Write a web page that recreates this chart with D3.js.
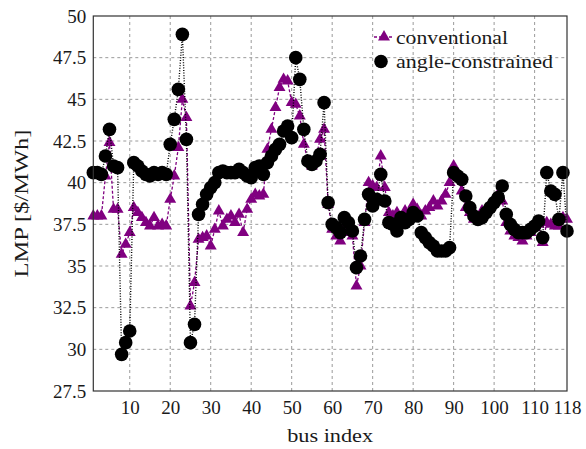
<!DOCTYPE html>
<html>
<head>
<meta charset="utf-8">
<title>LMP</title>
<script src="https://cdn.jsdelivr.net/npm/d3@7"></script>
<style>
  body { margin: 0; background: #fff; }
  text { font-family: "Liberation Serif", serif; fill: #1a1a1a; }
  .grid line { stroke: #808080; stroke-width: 0.8; stroke-dasharray: 3,3; }
</style>
</head>
<body>
<script>

// bus numbers 1..118
var buses = d3.range(1, 119);

var conventional = [
  38.0, 38.0, 38.0, 40.4, 42.4, 38.4, 38.4, 35.7, 36.3, 37.0,
  38.5, 38.2, 37.9, 37.6, 37.4, 37.9, 37.4, 37.5, 37.4, 39.0,
  40.4, 42.1, 45.0, 43.9, 32.6, 34.0, 36.6, 36.7, 36.8, 36.2,
  37.2, 38.3, 37.4, 37.8, 38.0, 37.6, 38.1, 37.0, 38.4, 39.0,
  39.3, 39.2, 39.3, 42.0, 43.2, 44.5, 45.7, 46.2, 46.1, 44.8,
  44.7, 44.0, 42.3, 41.3, 41.0, 41.5, 42.6, 43.2, 38.7, 37.2,
  36.8, 36.5, 37.4, 37.0, 36.8, 33.8, 35.0, 37.6, 40.0, 39.8,
  39.7, 41.6, 39.7, 38.2, 38.0, 38.2, 37.9, 38.3, 38.2, 38.7,
  38.4, 38.0, 38.3, 38.5, 38.9, 38.6, 38.9, 39.3, 40.0, 41.0,
  40.4, 39.5, 38.5, 38.2, 37.8, 37.9, 38.3, 38.3, 38.7, 39.0,
  39.3, 38.9, 37.6, 37.1, 36.8, 36.7, 36.5, 36.8, 37.0, 37.3,
  37.5, 36.4, 37.6, 37.5, 37.4, 37.4, 37.9, 37.8
];

var angleConstrained = [
  40.6, 40.6, 40.5, 41.6, 43.2, 41.0, 40.9, 29.7, 30.4, 31.1,
  41.2, 41.0, 40.7, 40.5, 40.4, 40.6, 40.5, 40.6, 40.5, 42.3,
  43.8, 45.6, 48.9, 42.6, 30.4, 31.5, 38.1, 38.7, 39.3, 39.7,
  40.0, 40.6, 40.7, 40.6, 40.6, 40.6, 40.8, 40.6, 40.4, 40.3,
  40.9, 41.0, 40.5, 41.2, 41.6, 42.0, 42.3, 43.1, 43.4, 42.7,
  47.5, 46.2, 43.2, 41.3, 41.1, 41.3, 41.7, 44.8, 38.8, 37.5,
  37.3, 37.0, 37.9, 37.6, 37.1, 34.9, 35.6, 37.8, 39.3, 38.6,
  39.0, 40.5, 38.9, 37.6, 37.5, 37.1, 37.9, 37.6, 37.8, 38.2,
  38.0, 37.0, 36.7, 36.4, 36.2, 35.9, 35.9, 35.9, 36.1, 40.6,
  40.4, 40.2, 39.2, 38.5, 38.0, 37.8, 37.9, 38.2, 38.5, 38.8,
  39.1, 39.8, 38.1, 37.5, 37.2, 37.0, 37.0, 37.0, 37.2, 37.4,
  37.7, 36.7, 40.6, 39.5, 39.3, 37.8, 40.6, 37.1
];

var xTicks = [10, 20, 30, 40, 50, 60, 70, 80, 90, 100, 110, 118];
var yTicks = [27.5, 30, 32.5, 35, 37.5, 40, 42.5, 45, 47.5, 50];
var seriesNames = ["conventional", "angle-constrained"];

var purple = "#800080";

var W = 586, H = 449;
var m = {left: 93.3, right: 567, top: 16, bottom: 391};

var svg = d3.select("body").append("svg")
    .attr("width", W)
    .attr("height", H);

var x = d3.scaleLinear().domain([1, 118]).range([m.left, m.right]);
var y = d3.scaleLinear().domain([27.5, 50]).range([m.bottom, m.top]);

// grid
var grid = svg.append("g").attr("class", "grid");
grid.selectAll("line.gx")
    .data(xTicks.filter(function(d) { return d < 118; }))
  .enter().append("line")
    .attr("x1", function(d) { return x(d); })
    .attr("x2", function(d) { return x(d); })
    .attr("y1", m.top).attr("y2", m.bottom);
grid.selectAll("line.gy")
    .data(yTicks.filter(function(d) { return d > 27.5 && d < 50; }))
  .enter().append("line")
    .attr("y1", function(d) { return y(d); })
    .attr("y2", function(d) { return y(d); })
    .attr("x1", m.left).attr("x2", m.right);

// axes
var xAxis = d3.axisBottom(x).tickValues(xTicks).tickSize(0).tickPadding(10);
var yAxis = d3.axisLeft(y).tickValues(yTicks).tickSize(0).tickPadding(7)
    .tickFormat(function(d) { return String(d); });

var gx = svg.append("g")
    .attr("transform", "translate(0," + m.bottom + ")")
    .call(xAxis);
var gy = svg.append("g")
    .attr("transform", "translate(" + m.left + ",0)")
    .call(yAxis);
[gx, gy].forEach(function(g) {
  g.select(".domain").remove();
  g.selectAll("text")
      .style("font-family", "'Liberation Serif', serif")
      .style("font-size", "19px")
      .attr("fill", "#1a1a1a");
});

var dataC = buses.map(function(b, i) { return {b: b, v: conventional[i]}; });
var dataA = buses.map(function(b, i) { return {b: b, v: angleConstrained[i]}; });

var line = d3.line()
    .x(function(d) { return x(d.b); })
    .y(function(d) { return y(d.v); });

// conventional
svg.append("path")
    .datum(dataC)
    .attr("d", line)
    .attr("fill", "none")
    .attr("stroke", purple)
    .attr("stroke-width", 1.3)
    .attr("stroke-dasharray", "3,2");

var tri = d3.symbol().type(d3.symbolTriangle).size(62);
svg.selectAll("path.tri")
    .data(dataC)
  .enter().append("path")
    .attr("class", "tri")
    .attr("d", tri)
    .attr("fill", purple)
    .attr("transform", function(d) { return "translate(" + x(d.b) + "," + y(d.v) + ")"; });

// angle-constrained
svg.append("path")
    .datum(dataA)
    .attr("d", line)
    .attr("fill", "none")
    .attr("stroke", "#000")
    .attr("stroke-width", 1.4)
    .attr("stroke-dasharray", "1,1.6");

svg.selectAll("circle.dot")
    .data(dataA)
  .enter().append("circle")
    .attr("class", "dot")
    .attr("cx", function(d) { return x(d.b); })
    .attr("cy", function(d) { return y(d.v); })
    .attr("r", 6.8)
    .attr("fill", "#000");

// frame
svg.append("rect")
    .attr("x", m.left).attr("y", m.top)
    .attr("width", m.right - m.left).attr("height", m.bottom - m.top)
    .attr("fill", "none")
    .attr("stroke", "#333")
    .attr("stroke-width", 1.2);

// legend
var leg = svg.append("g");
leg.append("line")
    .attr("x1", 374).attr("x2", 394)
    .attr("y1", 37).attr("y2", 37)
    .attr("stroke", purple).attr("stroke-width", 1.3)
    .attr("stroke-dasharray", "3,2");
leg.append("path")
    .attr("d", tri)
    .attr("fill", purple)
    .attr("transform", "translate(384,37)");
leg.append("circle")
    .attr("cx", 381).attr("cy", 61.5).attr("r", 6.8).attr("fill", "#000");
leg.append("text")
    .attr("x", 396).attr("y", 44)
    .attr("font-size", 19)
    .attr("textLength", 112).attr("lengthAdjust", "spacingAndGlyphs")
    .text(seriesNames[0]);
leg.append("text")
    .attr("x", 396).attr("y", 68)
    .attr("font-size", 19)
    .attr("textLength", 157).attr("lengthAdjust", "spacingAndGlyphs")
    .text(seriesNames[1]);

// axis titles
svg.append("text")
    .attr("x", (m.left + m.right) / 2).attr("y", 442)
    .attr("text-anchor", "middle")
    .attr("font-size", 19)
    .attr("textLength", 86).attr("lengthAdjust", "spacingAndGlyphs")
    .text("bus index");

svg.append("text")
    .attr("transform", "translate(28," + ((m.top + m.bottom) / 2) + ") rotate(-90)")
    .attr("text-anchor", "middle")
    .attr("font-size", 19)
    .attr("textLength", 148).attr("lengthAdjust", "spacingAndGlyphs")
    .text("LMP [$/MWh]");

</script>
</body>
</html>
